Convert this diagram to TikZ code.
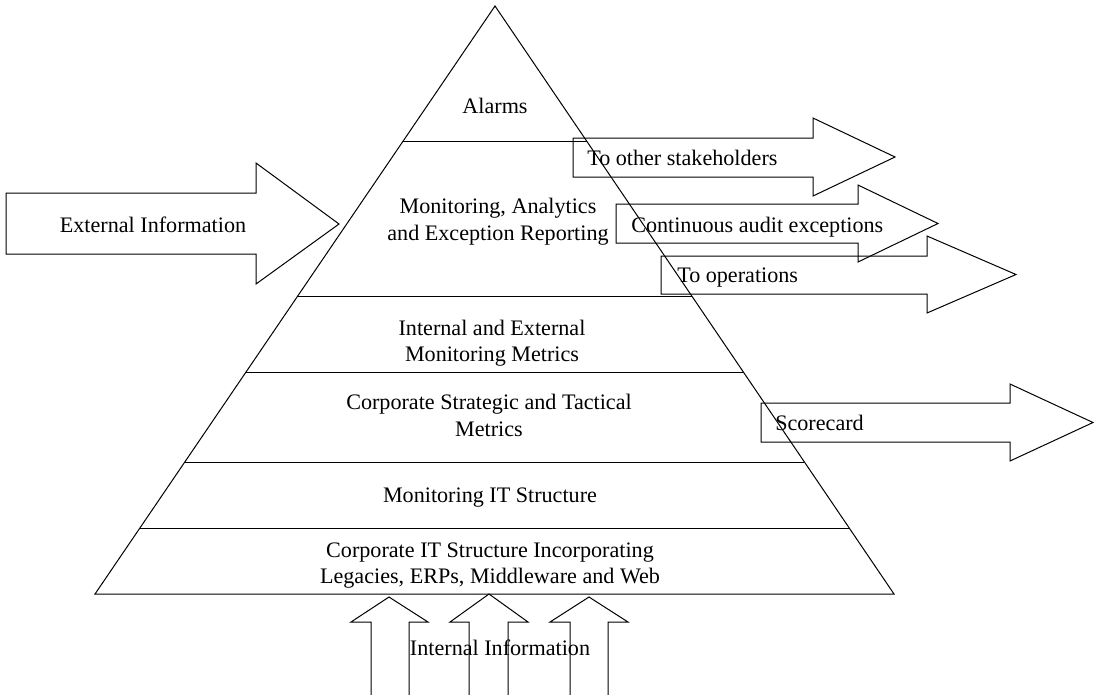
\documentclass[tikz,border=0pt]{standalone}
\usepackage{fontspec}
\setmainfont{Liberation Serif}
\usetikzlibrary{calc}
\begin{document}
\begin{tikzpicture}[x=0.75pt,y=-0.75pt,
  outline/.style={draw=black,line width=0.75pt,line join=miter},
  lbl/.style={font=\fontsize{16.6}{19.8}\selectfont,inner sep=0pt},
  tier/.style={lbl,align=center,anchor=center},
  flowlbl/.style={lbl,anchor=base west}]
\useasboundingbox (0,0) rectangle (1094,694);
\clip (0,0) rectangle (1094,694);

% pyramid outline
\coordinate (apex) at (495,6);
\coordinate (bl) at (95,594);
\coordinate (br) at (894,594);
\draw[outline] (apex) -- (bl) -- (br) -- cycle;

% tier dividers
\foreach \t/\n in {0.2296/a,0.4932/b,0.6241/c,0.7755/d,0.8878/e}{
  \coordinate (l\n) at ($(apex)!\t!(bl)$);
  \coordinate (r\n) at ($(apex)!\t!(br)$);
  \draw[outline] (l\n) -- (r\n);
}

% tier labels
\node[lbl,anchor=base] (alarms) at (495,113) {Alarms};
\node[tier] (mon) at (498,221.5) {Monitoring, Analytics\\and Exception Reporting};
\node[tier] (metrics) at (492,343) {Internal and External\\Monitoring Metrics};
\node[tier] (corp) at (489,415.5) {Corporate Strategic and Tactical\\Metrics};
\node[lbl,anchor=base] (monit) at (490,502) {Monitoring IT Structure};
\node[tier] (itstruct) at (490,565.5) {Corporate IT Structure Incorporating\\Legacies, ERPs, Middleware and Web};

% incoming external information
\draw[outline] (6,193) -- (256,193) -- (256,163) -- (339,224) -- (256,284) -- (256,254) -- (6,254) -- cycle;
\node[lbl,anchor=base] (extinfo) at (153,232) {External Information};

% outgoing reports
\draw[outline] (573,138) -- (813,138) -- (813,118) -- (895,157) -- (813,196) -- (813,177) -- (573,177) -- cycle;
\node[flowlbl] (stake) at (587,165) {To other stakeholders};

\draw[outline] (616,204) -- (858,204) -- (858,185) -- (938,223.5) -- (858,262) -- (858,243) -- (616,243) -- cycle;
\node[flowlbl] (audit) at (631,232) {Continuous audit exceptions};

\draw[outline] (661,256) -- (927,256) -- (927,236) -- (1016,274.5) -- (927,313) -- (927,294) -- (661,294) -- cycle;
\node[flowlbl] (ops) at (677,282) {To operations};

\draw[outline] (761,403) -- (1010,403) -- (1010,384) -- (1093,422.5) -- (1010,461) -- (1010,442) -- (761,442) -- cycle;
\node[flowlbl] (score) at (775,430) {Scorecard};

% incoming internal information
\draw[outline] (371,700) -- (371,622) -- (351,622) -- (389,597) -- (428,622) -- (409,622) -- (409,700);
\draw[outline] (469,700) -- (469,622) -- (450,622) -- (489,594) -- (528,622) -- (508,622) -- (508,700);
\draw[outline] (570,700) -- (570,622) -- (550,622) -- (589,597) -- (628,622) -- (608,622) -- (608,700);
\node[lbl,anchor=base] (intinfo) at (500,655) {Internal Information};
\end{tikzpicture}
\end{document}
